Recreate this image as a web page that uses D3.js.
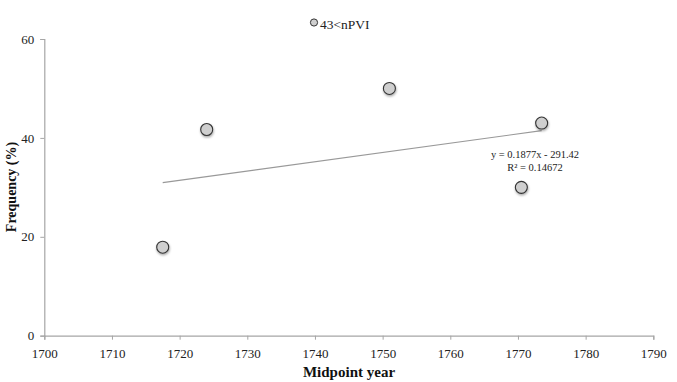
<!DOCTYPE html>
<html><head><meta charset="utf-8">
<script src="https://cdn.jsdelivr.net/npm/d3@7"></script>
<style>
body{margin:0;background:#fff;}
svg{display:block;font-family:"Liberation Serif","DejaVu Serif",serif;}
</style></head>
<body><svg id="c" width="677" height="382"></svg>
<script>
const years = [1717.5, 1724, 1751, 1770.5, 1773.5];
const freqs = [17.9, 41.7, 50, 30, 43];
const xTicks = [1700,1710,1720,1730,1740,1750,1760,1770,1780,1790];
const yTicks = [0,20,40,60];
const seriesName = "43<nPVI";
const slope = 0.1877, intercept = -291.42, r2 = 0.14672;

const svg = d3.select("#c");
const x = d3.scaleLinear().domain([1700,1790]).range([44.3,653.3]);
const y = d3.scaleLinear().domain([0,60]).range([335.7,39]);

const defs = svg.append("defs");
const f = defs.append("filter").attr("id","sh").attr("x","-50%").attr("y","-50%").attr("width","200%").attr("height","200%");
f.append("feDropShadow").attr("dx",0.5).attr("dy",1.5).attr("stdDeviation",1.2).attr("flood-color","#000").attr("flood-opacity",0.35);

const xa = svg.append("g").attr("transform",`translate(0,${y(0)})`)
  .call(d3.axisBottom(x).tickValues(xTicks).tickSize(4).tickPadding(9).tickFormat(d3.format("d")));
const ya = svg.append("g").attr("transform",`translate(${x(1700)},0)`)
  .call(d3.axisLeft(y).tickValues(yTicks).tickSize(4).tickPadding(6));
[xa,ya].forEach(a=>{
  a.select(".domain").attr("stroke","#a6a6a6").attr("stroke-width",1.2);
  a.selectAll(".tick line").attr("stroke","#a6a6a6");
  a.selectAll("text").attr("fill","#222").style("font-size","13px").style("font-family","Liberation Serif, serif");
});

// trendline
const xr = d3.extent(years);
svg.append("line")
  .attr("x1",x(xr[0])).attr("y1",y(slope*xr[0]+intercept))
  .attr("x2",x(xr[1])).attr("y2",y(slope*xr[1]+intercept))
  .attr("stroke","#999").attr("stroke-width",1.2);

svg.append("g").selectAll("circle").data(years.map((d,i)=>[d,freqs[i]])).join("circle")
  .attr("cx",d=>x(d[0])).attr("cy",d=>y(d[1])).attr("r",6)
  .attr("fill","#cfcfcf").attr("stroke","#333").attr("stroke-width",1.1)
  .attr("filter","url(#sh)");

// equation
const eq = svg.append("text").attr("text-anchor","middle").attr("fill","#222").style("font-size","10.5px");
eq.append("tspan").attr("x",535).attr("y",158).text(`y = ${slope}x - ${Math.abs(intercept)}`);
eq.append("tspan").attr("x",535).attr("y",170.5).text(`R² = ${r2}`);

// legend
svg.append("circle").attr("cx",314).attr("cy",22.5).attr("r",3.6)
  .attr("fill","#cfcfcf").attr("stroke","#333").attr("stroke-width",1);
svg.append("text").attr("x",320).attr("y",29).attr("fill","#222").style("font-size","13.5px").text(seriesName);

// axis titles
svg.append("text").attr("x",349).attr("y",377).attr("text-anchor","middle")
  .attr("font-weight","bold").attr("fill","#111").style("font-size","15px").text("Midpoint year");
svg.append("text").attr("transform","translate(16,187) rotate(-90)").attr("text-anchor","middle")
  .attr("font-weight","bold").attr("fill","#111").style("font-size","14px").text("Frequency (%)");
</script></body></html>
